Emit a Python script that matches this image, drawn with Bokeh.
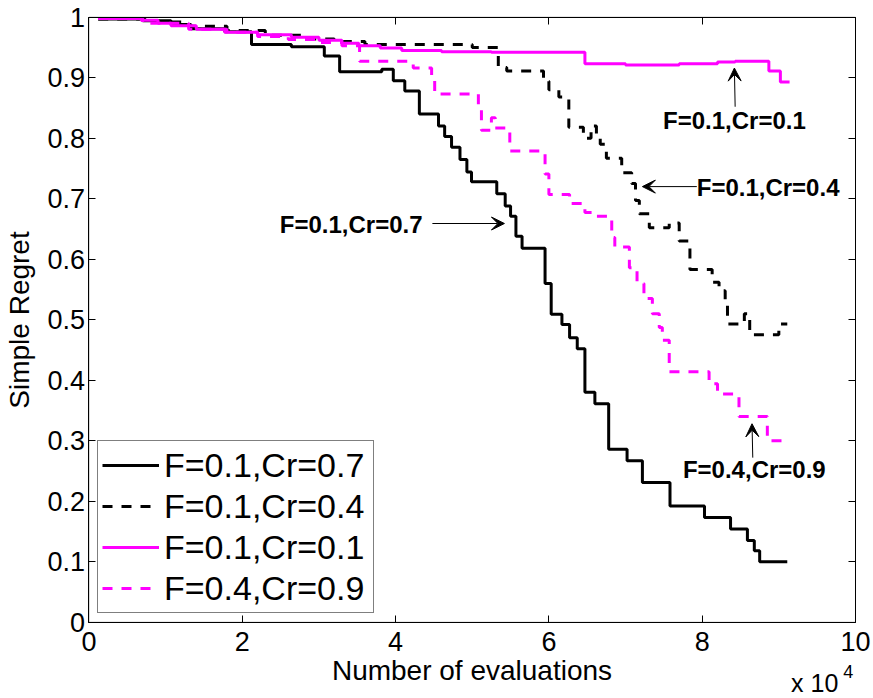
from bokeh.plotting import figure
from bokeh.models import (Range1d, FixedTicker, LinearAxis, Legend, LegendItem,
                          Label, Arrow, VeeHead, CustomJSTickFormatter, BoxAnnotation)
from bokeh.embed import file_html
from bokeh.resources import INLINE

# ---------------- data (x in units of 10^4 evaluations) ----------------
evals_f01_cr07 = [0.12, 0.7, 1.07, 1.33, 1.77, 2.12, 2.64, 3.07, 3.27, 3.82, 3.97, 4.12,
                  4.31, 4.56, 4.64, 4.73, 4.84, 4.93, 4.99, 5.32, 5.43, 5.5, 5.57, 5.65,
                  5.95, 6.03, 6.17, 6.27, 6.37, 6.47, 6.6, 6.78, 7.02, 7.22, 7.58, 8.03,
                  8.37, 8.59, 8.68, 8.75, 9.11]
regret_f01_cr07 = [0.997, 0.994, 0.988, 0.981, 0.976, 0.955, 0.951, 0.936, 0.91, 0.914, 0.895, 0.878,
                   0.84, 0.82, 0.803, 0.785, 0.765, 0.744, 0.728, 0.708, 0.688, 0.671, 0.638, 0.618,
                   0.56, 0.509, 0.492, 0.47, 0.452, 0.38, 0.361, 0.286, 0.267, 0.231, 0.192, 0.173,
                   0.154, 0.135, 0.118, 0.1, 0.1]

evals_f01_cr04 = [0.12, 0.8, 1.3, 1.8, 2.3, 2.8, 3.2, 3.6, 5.0, 5.34, 5.45, 5.93, 6.0, 6.13,
                  6.26, 6.45, 6.55, 6.62, 6.67, 6.75, 6.95, 7.08, 7.13, 7.18, 7.31, 7.57, 7.7,
                  7.84, 8.13, 8.22, 8.3, 8.33, 8.55, 8.62, 9.0, 9.11]
regret_f01_cr04 = [0.997, 0.992, 0.985, 0.978, 0.97, 0.964, 0.96, 0.955, 0.95, 0.917, 0.911, 0.894, 0.88, 0.868,
                   0.818, 0.80, 0.82, 0.80, 0.79, 0.767, 0.743, 0.725, 0.697, 0.675, 0.652, 0.66, 0.63,
                   0.583, 0.562, 0.548, 0.526, 0.493, 0.51, 0.475, 0.493, 0.493]

evals_f01_cr01 = [0.12, 0.68, 0.9, 1.07, 1.4, 1.77, 2.2, 2.64, 3.0, 3.3, 3.52, 3.8, 4.08, 4.6,
                  5.25, 6.47, 7.0, 7.7, 8.2, 8.43, 8.87, 9.02, 9.14]
regret_f01_cr01 = [0.998, 0.995, 0.99, 0.986, 0.98, 0.975, 0.971, 0.967, 0.962, 0.957, 0.953, 0.949, 0.945, 0.943,
                   0.942, 0.923, 0.921, 0.923, 0.926, 0.927, 0.911, 0.893, 0.893]

evals_f04_cr09 = [0.12, 0.7, 1.3, 1.8, 2.2, 2.6, 3.0, 3.3, 3.53, 4.23, 4.47, 4.51, 5.08, 5.12, 5.25,
                  5.3, 5.49, 5.95, 6.0, 6.27, 6.47, 6.6, 6.82, 6.86, 7.05, 7.15, 7.24, 7.35, 7.44,
                  7.48, 7.57, 8.09, 8.2, 8.48, 8.85, 9.09]
regret_f04_cr09 = [0.998, 0.99, 0.98, 0.975, 0.968, 0.963, 0.958, 0.953, 0.927, 0.916, 0.895, 0.873, 0.851, 0.813, 0.834,
                   0.817, 0.779, 0.741, 0.707, 0.692, 0.677, 0.671, 0.636, 0.62, 0.586, 0.56, 0.535, 0.51, 0.487,
                   0.466, 0.414, 0.394, 0.377, 0.34, 0.3, 0.3]

series_names = ["F=0.1,Cr=0.7", "F=0.1,Cr=0.4", "F=0.1,Cr=0.1", "F=0.4,Cr=0.9"]

x_ticks = [0, 2, 4, 6, 8, 10]
x_tick_labels = ["0", "2", "4", "6", "8", "10"]
y_ticks = [0, 0.1, 0.2, 0.3, 0.4, 0.5, 0.6, 0.7, 0.8, 0.9, 1]
y_tick_labels = ["0", "0.1", "0.2", "0.3", "0.4", "0.5", "0.6", "0.7", "0.8", "0.9", "1"]

# annotations: (text, text x, text y, arrow start x, start y, arrow end x, end y)
annotations = [
    ("F=0.1,Cr=0.1", 8.42, 0.829, 8.43, 0.852, 8.42, 0.916),
    ("F=0.1,Cr=0.4", 8.86, 0.718, 7.93, 0.72, 7.22, 0.72),
    ("F=0.1,Cr=0.7", 3.42, 0.657, 4.48, 0.659, 5.42, 0.659),
    ("F=0.4,Cr=0.9", 8.68, 0.252, 8.66, 0.272, 8.65, 0.328),
]

FONT = "Liberation Sans"

# The plotting frame covers the whole canvas; the axes are pinned to the
# data box 0..10 x 0..1, so that every text stays inside the frame.
p = figure(width=873, height=698, x_range=Range1d(-1.1546, 10.235), y_range=Range1d(-0.1261, 1.0276),
           output_backend="svg", toolbar_location=None, min_border=0,
           min_border_left=0, min_border_right=0, min_border_top=0, min_border_bottom=0)
p.xgrid.visible = False
p.ygrid.visible = False
p.outline_line_color = None
p.background_fill_color = "white"
p.border_fill_color = "white"

p.xaxis.ticker = FixedTicker(ticks=x_ticks)
p.xaxis.major_label_overrides = dict(zip(x_ticks, x_tick_labels))
p.xaxis.fixed_location = 0
p.xaxis.bounds = (0, 10)
p.yaxis.ticker = FixedTicker(ticks=y_ticks)
p.yaxis.major_label_overrides = dict(zip(y_ticks, y_tick_labels))
p.yaxis.fixed_location = 0
p.yaxis.bounds = (0, 1)
p.xaxis.axis_label = "Number of evaluations"
p.yaxis.axis_label = "Simple Regret"
for ax in (p.xaxis[0], p.yaxis[0]):
    ax.major_tick_in = 7
    ax.major_tick_out = 0
    ax.minor_tick_in = 0
    ax.minor_tick_out = 0
    ax.major_label_text_font = FONT
    ax.major_label_text_font_size = "27px"
    ax.major_label_text_color = "black"
    ax.axis_label_text_font = FONT
    ax.axis_label_text_font_size = "28px"
    ax.axis_label_text_font_style = "normal"
    ax.axis_label_text_color = "black"
    ax.axis_line_color = "black"
    ax.major_tick_line_color = "black"
p.xaxis.major_label_standoff = 10
p.xaxis.axis_label_standoff = 0
p.yaxis.major_label_standoff = 4
p.yaxis.axis_label_standoff = 9

blank = CustomJSTickFormatter(code="return ''")
top_axis = LinearAxis(ticker=FixedTicker(ticks=x_ticks), formatter=blank, fixed_location=1, bounds=(0, 10),
                      major_tick_in=7, major_tick_out=0, minor_tick_in=0, minor_tick_out=0,
                      major_label_standoff=0, major_label_text_font_size="0px")
right_axis = LinearAxis(ticker=FixedTicker(ticks=y_ticks), formatter=blank, fixed_location=10, bounds=(0, 1),
                        major_tick_in=7, major_tick_out=0, minor_tick_in=0, minor_tick_out=0,
                        major_label_standoff=0, major_label_text_font_size="0px")
p.add_layout(top_axis, "above")
p.add_layout(right_axis, "right")

# box around the data area
p.add_layout(BoxAnnotation(left=0, right=10, bottom=0, top=1, fill_alpha=0, fill_color=None,
                           line_color="black", line_width=1))

DASH = "10 9"
r1 = p.step(evals_f01_cr07, regret_f01_cr07, mode="after", line_color="black", line_width=3)
r2 = p.step(evals_f01_cr04, regret_f01_cr04, mode="after", line_color="black", line_width=3,
            line_dash=DASH)
r3 = p.step(evals_f01_cr01, regret_f01_cr01, mode="after", line_color="#FF00FF", line_width=3)
r4 = p.step(evals_f04_cr09, regret_f04_cr09, mode="after", line_color="#FF00FF", line_width=3,
            line_dash=DASH)

legend = Legend(items=[LegendItem(label=n, renderers=[r]) for n, r in zip(series_names, [r1, r2, r3, r4])],
                location=(97, 85), label_text_font=FONT, label_text_font_size="34px",
                label_text_color="black", label_height=40, glyph_height=40, glyph_width=57,
                label_width=205, label_standoff=5, spacing=1, padding=4, margin=0,
                border_line_color="black", border_line_width=1, background_fill_color="white",
                background_fill_alpha=1)
p.add_layout(legend)

for txt, tx, ty, xs, ys, xe, ye in annotations:
    p.add_layout(Label(x=tx, y=ty, text=txt, text_font=FONT, text_font_size="24px",
                       text_font_style="bold", text_align="center", text_baseline="middle",
                       text_color="black"))
    p.add_layout(Arrow(x_start=xs, y_start=ys, x_end=xe, y_end=ye, line_width=1, line_color="black",
                       end=VeeHead(size=13, fill_color="black", line_color="black")))

p.add_layout(Label(x=9.16, y=-0.1013, text="x 10", text_font=FONT, text_font_size="25px",
                   text_align="left", text_baseline="alphabetic", text_color="black"))
p.add_layout(Label(x=9.84, y=-0.0815, text="4", text_font=FONT, text_font_size="18px",
                   text_align="left", text_baseline="alphabetic", text_color="black"))

open("out.html", "w").write(file_html(p, INLINE))
